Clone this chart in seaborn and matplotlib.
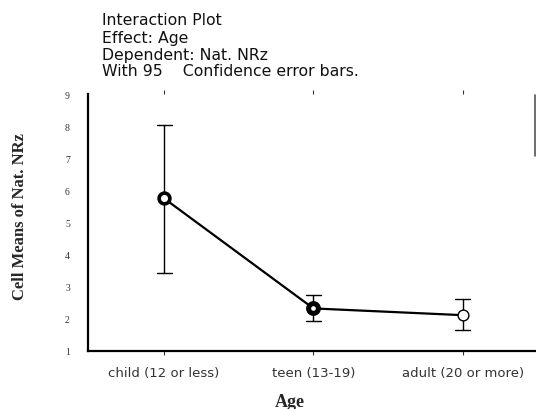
import matplotlib
matplotlib.use("Agg")
import matplotlib.pyplot as plt
import seaborn as sns
import pandas as pd
import numpy as np
from matplotlib.lines import Line2D

categories = ["child (12 or less)", "teen (13-19)", "adult (20 or more)"]
means = [5.75, 2.32, 2.11]
ci_low = [3.41, 1.93, 1.64]
ci_high = [8.03, 2.74, 2.60]
y_ticks = [1, 2, 3, 4, 5, 6, 7, 8, 9]
title_lines = ["Interaction Plot", "Effect: Age", "Dependent: Nat. NRz",
               "With 95    Confidence error bars."]

sns.set_theme(style="white")
plt.rcParams['font.family'] = ['DejaVu Sans']

rows = []
for c, lo, m, hi in zip(categories, ci_low, means, ci_high):
    for v in (lo, m, hi):
        rows.append({"Age": c, "value": v})
df = pd.DataFrame(rows)

fig = plt.figure(figsize=(5.36, 4.10), dpi=100)
ax = fig.add_axes([0.164, 0.142, 0.836, 0.626])

sns.pointplot(data=df, x="Age", y="value", order=categories,
              estimator=np.median, errorbar=("pi", 100), capsize=0.1,
              color="black", markers="", linewidth=1.6,
              err_kws={"linewidth": 1.0}, ax=ax)

edge_w = [2.6, 3.6, 1.0]
sizes = [60, 50, 60]
for i, (m, ew, s) in enumerate(zip(means, edge_w, sizes)):
    ax.scatter([i], [m], s=s, facecolor="white", edgecolor="black",
               linewidth=ew, zorder=5)

ax.set_xlim(-0.51, 2.49)
ax.set_ylim(1, 9)
ax.set_yticks(y_ticks)
ax.set_yticklabels([str(t) for t in y_ticks], fontsize=7,
                   family=['Liberation Serif', 'DejaVu Serif'], color="#333333")
ax.tick_params(axis="y", length=3, width=0.8, pad=10, color="#555555")
ax.tick_params(axis="x", labelsize=9.5, length=3, width=0.8, pad=8,
               colors="#333333", top=True, bottom=True, direction="out")
ax.xaxis.set_ticks_position("both")
for sp in ["top", "right"]:
    ax.spines[sp].set_visible(False)
for sp in ["left", "bottom"]:
    ax.spines[sp].set_visible(True)
    ax.spines[sp].set_color("black")
    ax.spines[sp].set_linewidth(1.6)
ax.set_xlabel("")
ax.set_ylabel("")
ax.grid(False)

for k, line in enumerate(title_lines):
    y_px = [20.5, 38, 55.5, 72][k]
    fig.text(102 / 536, 1 - y_px / 410, line, ha="left", va="center",
             fontsize=11.3, color="#111111")
fig.text(20 / 536, 1 - 217 / 410, "Cell Means of Nat. NRz", rotation=90,
         ha="center", va="center", fontsize=12, fontweight="bold",
         family=['Liberation Serif', 'DejaVu Serif'])
fig.text(290 / 536, 1 - 403 / 410, "Age", ha="center", va="center",
         fontsize=13, fontweight="bold", family=['Liberation Serif', 'DejaVu Serif'])

fig.add_artist(Line2D([0.998, 0.998], [1 - 96/410, 1 - 157/410],
                      transform=fig.transFigure, color="#555555", linewidth=1.2))

fig.savefig("out.png", dpi=100)
